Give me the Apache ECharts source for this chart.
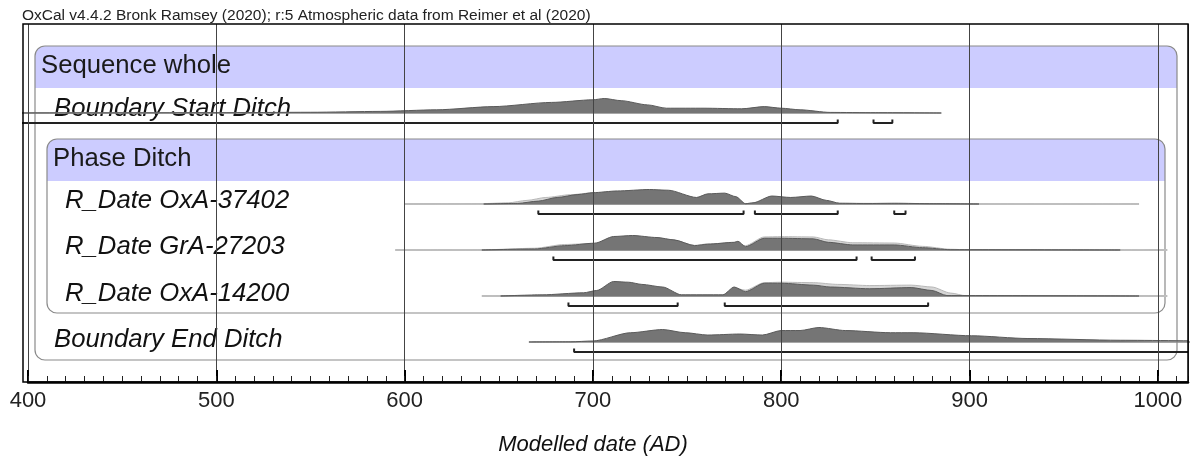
<!DOCTYPE html>
<html>
<head>
<meta charset="utf-8">
<script src="https://cdn.jsdelivr.net/npm/echarts@6/dist/echarts.min.js"></script>
<style>
html, body { margin: 0; padding: 0; background: #fff; }
#chart { width: 1195px; height: 465px; }
</style>
</head>
<body>
<div id="chart"></div>
<script>
// texts
const headerText = 'OxCal v4.4.2 Bronk Ramsey (2020); r:5 Atmospheric data from Reimer et al (2020)';
const groupNames = ['Sequence whole', 'Phase Ditch'];
const rowNames = ['Boundary Start Ditch', 'R_Date OxA-37402', 'R_Date GrA-27203', 'R_Date OxA-14200', 'Boundary End Ditch'];
const axisTitle = 'Modelled date (AD)';
const xTicks = [400, 500, 600, 700, 800, 900, 1000];

// distributions: [year AD, relative probability 0-100]
const startPost = [[380,0.3],[400,0.4],[450,1],[500,2],[550,5],[587,11],[617,22],[647,44],[678,73],[700,91],[706,100],[715,85],[729,56],[739,33],[759,33],[779,29],[791,44],[800,33],[810,22],[826,4],[850,2],[885,0]];
const oxa37402Prior = [[600,0],[640,2],[655,8],[665,25],[675,45],[688,64],[700,77],[713,86],[730,92],[740,88],[755,42],[761,65],[770,70],[776,45],[781,2],[785,6],[795,50],[805,42],[816,50],[824,22],[831,5],[860,4],[900,1],[990,0]];
const oxa37402Post = [[642,0],[660,4],[671,20],[681,45],[692,65],[700,78],[713,90],[730,100],[740,95],[755,45],[761,70],[770,75],[776,50],[781,2],[785,8],[795,55],[805,45],[816,55],[824,25],[831,5],[845,3],[860,5],[881,2],[905,0]];
const gra27203Prior = [[595,0],[641,1],[669,12],[685,38],[701,45],[711,85],[721,92],[734,82],[743,68],[754,32],[761,42],[775,50],[781,30],[791,90],[800,92],[817,90],[825,70],[838,50],[860,48],[875,25],[890,5],[900,1],[1005,0]];
const gra27203Post = [[641,0],[669,7],[685,30],[701,47],[711,93],[721,100],[734,86],[743,70],[754,30],[761,40],[775,53],[777,60],[781,23],[791,81],[800,81],[817,77],[825,53],[838,35],[860,35],[875,16],[890,2],[980,0]];
const oxa14200Prior = [[641,0],[673,3],[695,12],[711,50],[726,48],[737,40],[747,6],[769,6],[775,55],[781,40],[791,92],[800,95],[817,92],[830,80],[847,72],[869,75],[880,62],[890,20],[898,2],[1005,0]];
const oxa14200Post = [[651,0],[673,8],[695,22],[702,38],[711,100],[719,95],[726,80],[737,62],[747,8],[769,8],[775,62],[781,30],[791,88],[800,88],[817,75],[826,62],[847,50],[869,58],[880,38],[888,3],[990,0]];
const endPost = [[666,0],[688,1],[700,7],[720,64],[737,86],[749,64],[761,48],[778,55],[790,48],[800,79],[810,79],[820,100],[834,79],[858,64],[870,64],[901,43],[931,24],[980,12],[1030,6]];

// 95.4% ranges
const startRange = [[380,830],[849,859]];
const oxa37402Range = [[671,780],[786,830],[860,866]];
const gra27203Range = [[679,840],[848,871]];
const oxa14200Range = [[687,745],[770,878]];
const endRange = [[690,1030]];

// extent of drawn baselines [prior, posterior]
const startLine = [null, [380,885]];
const oxa37402Line = [[600,990],[642,905]];
const gra27203Line = [[595,1005],[641,980]];
const oxa14200Line = [[641,1005],[651,990]];
const endLine = [null, [666,1030]];

const rows = [
  { name: rowNames[0], prior: null, post: startPost, range: startRange, line: startLine },
  { name: rowNames[1], prior: oxa37402Prior, post: oxa37402Post, range: oxa37402Range, line: oxa37402Line },
  { name: rowNames[2], prior: gra27203Prior, post: gra27203Post, range: gra27203Range, line: gra27203Line },
  { name: rowNames[3], prior: oxa14200Prior, post: oxa14200Post, range: oxa14200Range, line: oxa14200Line },
  { name: rowNames[4], prior: null, post: endPost, range: endRange, line: endLine }
];

const baselines = [113, 204, 250, 296, 342];
const labelY = [109, 201, 247, 294, 340];
const labelX = [54, 65, 65, 65, 54];
const H = 14.5;           // px for 100%
const brOff = 10;         // px below baseline
const yBr = -100 * brOff / H;
const hook = 25;

const font = '"Liberation Sans", Arial, sans-serif';
const myChart = echarts.init(document.getElementById('chart'), null, { renderer: 'canvas' });

const grids = [{ left: 28, right: 7, top: 24, bottom: 83 }];
const xAxes = [
  {
    gridIndex: 0, type: 'value', position: 'bottom', min: 400, max: 1016, interval: 100, z: 10,
    axisLine: { show: true, lineStyle: { color: '#000', width: 2.5 } },
    axisTick: { show: true, inside: true, length: 12, lineStyle: { color: '#000', width: 2 } },
    axisLabel: { show: true, margin: 8, fontSize: 22, color: '#222', fontFamily: font, showMaxLabel: false,
      formatter: v => xTicks.indexOf(v) >= 0 ? String(v) : '' },
    splitLine: { show: true, lineStyle: { color: '#444', width: 1 } }
  },
  {
    gridIndex: 0, type: 'value', position: 'bottom', min: 400, max: 1016, interval: 10, z: 10,
    axisLine: { show: false },
    axisTick: { show: true, inside: true, length: 6, lineStyle: { color: '#222', width: 1 } },
    axisLabel: { show: false },
    splitLine: { show: false }
  }
];
const yAxes = [{ gridIndex: 0, type: 'value', min: 0, max: 1, show: false }];
const series = [];

rows.forEach((row, i) => {
  const g = i + 1;
  grids.push({ left: 23, right: 7, top: baselines[i] - H, height: 2 * H });
  xAxes.push({ gridIndex: g, type: 'value', min: 397.345, max: 1016, show: false });
  yAxes.push({ gridIndex: g, type: 'value', min: -100, max: 100, show: false });
  const ax = { xAxisIndex: g + 1, yAxisIndex: g, symbol: 'none', silent: true, animation: false };
  if (row.line[0]) {
    series.push(Object.assign({ type: 'line', z: 1, data: [[row.line[0][0], 0], [row.line[0][1], 0]],
      lineStyle: { color: '#c4c4c4', width: 2 } }, ax));
  }
  if (row.prior) {
    series.push(Object.assign({ type: 'line', z: 2, data: row.prior, smooth: 0.25, smoothMonotone: 'x',
      lineStyle: { color: '#b8b8b8', width: 1 }, areaStyle: { color: '#d6d6d6', opacity: 1 } }, ax));
  }
  series.push(Object.assign({ type: 'line', z: 3, data: [[row.line[1][0], 0], [row.line[1][1], 0]],
    lineStyle: { color: '#8a8a8a', width: 1.5 } }, ax));
  series.push(Object.assign({ type: 'line', z: 4, data: row.post, smooth: 0.25, smoothMonotone: 'x',
    lineStyle: { color: '#5a5a5a', width: 1 }, areaStyle: { color: '#757575', opacity: 1 } }, ax));
  row.range.forEach(r => {
    series.push(Object.assign({ type: 'line', z: 5,
      data: [[r[0], yBr + hook], [r[0], yBr], [r[1], yBr], [r[1], yBr + hook]],
      lineStyle: { color: '#222', width: 2 } }, ax));
  });
});

const graphics = [
  // Sequence group
  { type: 'rect', z: 1, shape: { x: 35, y: 46, width: 1142, height: 314, r: 10 }, style: { fill: 'none', stroke: '#8a8a8a', lineWidth: 1.2 } },
  { type: 'rect', z: 0, shape: { x: 35, y: 46, width: 1142, height: 42, r: [10, 10, 0, 0] }, style: { fill: '#ccccff' } },
  { type: 'text', z: 3, style: { text: groupNames[0], x: 41, y: 66, font: '25.7px ' + font, fill: '#1a1a1a', verticalAlign: 'middle', align: 'left' } },
  // Phase group
  { type: 'rect', z: 1, shape: { x: 47, y: 139, width: 1118, height: 174, r: 10 }, style: { fill: 'none', stroke: '#8a8a8a', lineWidth: 1.2 } },
  { type: 'rect', z: 0, shape: { x: 47, y: 139, width: 1118, height: 42, r: [10, 10, 0, 0] }, style: { fill: '#ccccff' } },
  { type: 'text', z: 3, style: { text: groupNames[1], x: 53, y: 159, font: '25.7px ' + font, fill: '#1a1a1a', verticalAlign: 'middle', align: 'left' } },
  // frame
  { type: 'rect', z: 20, shape: { x: 23, y: 24, width: 1165, height: 358 }, style: { fill: 'none', stroke: '#000', lineWidth: 1.5 } },
  { type: 'text', z: 3, style: { text: headerText, x: 22, y: 16, font: '15.5px ' + font, fill: '#222', verticalAlign: 'middle', align: 'left' } },
  { type: 'text', z: 3, style: { text: axisTitle, x: 593, y: 445, font: 'italic 22px ' + font, fill: '#111', verticalAlign: 'middle', align: 'center' } }
];
rows.forEach((row, i) => {
  graphics.push({ type: 'text', z: 3, style: { text: row.name, x: labelX[i], y: labelY[i], font: 'italic 25.7px ' + font, fill: '#111', verticalAlign: 'middle', align: 'left' } });
});

const option = {
  backgroundColor: '#fff',
  animation: false,
  grid: grids,
  xAxis: xAxes,
  yAxis: yAxes,
  series: series,
  graphic: { elements: graphics }
};
myChart.setOption(option);
window.onresize = myChart.resize;
</script>
</body>
</html>
